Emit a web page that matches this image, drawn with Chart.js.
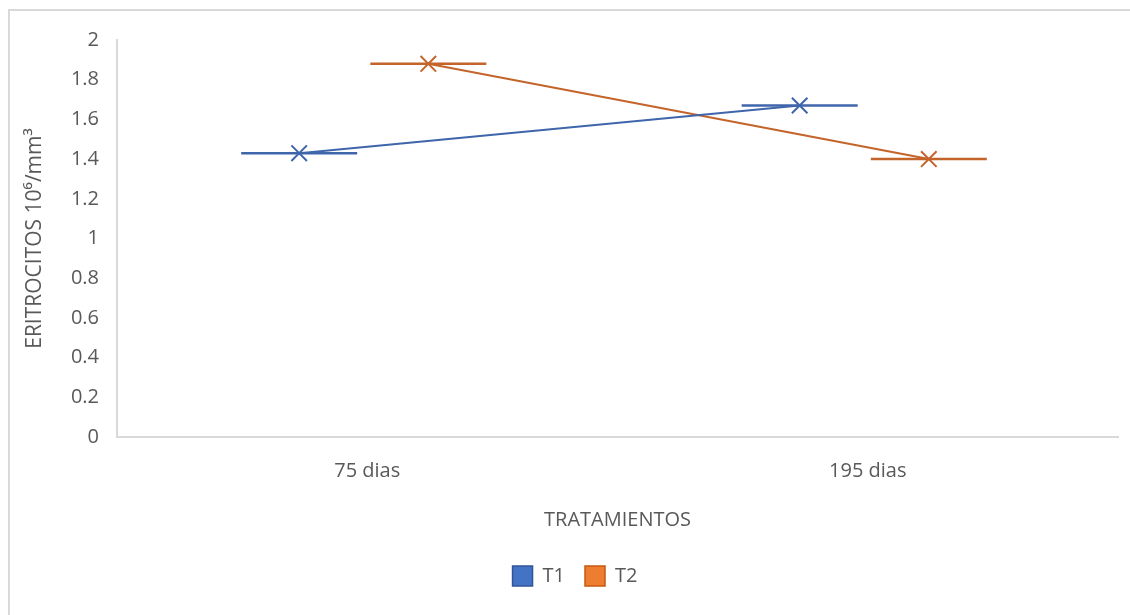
<!DOCTYPE html>
<html>
<head>
<meta charset="utf-8">
<script src="https://cdn.jsdelivr.net/npm/chart.js@4.4.0/dist/chart.umd.min.js"></script>
<style>
  html, body { margin: 0; padding: 0; background: #ffffff; }
  #moldura { position: absolute; left: 8px; top: 9px; width: 1200px; height: 700px;
             border-left: 2px solid #d9d9d9; border-top: 2px solid #d9d9d9; }
  #caixa { position: absolute; left: 0; top: 0; width: 1130px; height: 615px; }
</style>
</head>
<body>
<div id="moldura"></div>
<div id="caixa"><canvas id="grafico" width="1130" height="615"></canvas></div>
<script>
// dados
const categorias = ['75 dias', '195 dias'];
const valoresT1 = [1.43, 1.67];
const valoresT2 = [1.88, 1.40];
const ticksY = [0, 0.2, 0.4, 0.6, 0.8, 1, 1.2, 1.4, 1.6, 1.8, 2];

// deslocamento de cada serie dentro da categoria
const desloc = { T1: -0.136, T2: 0.122 };

const corT1 = '#3f65ab';
const corT2 = '#c4642a';

function pontos(valores, d) {
    return valores.map((v, i) => ({ x: i + 0.5 + d, y: v }));
}

const fonte = { family: '"Open Sans", sans-serif', size: 20 };

// empurra a legenda um pouco para a direita
const moveLegenda = {
    id: 'moveLegenda',
    afterLayout(chart) {
        chart.legend.left += 12;
        chart.legend.right += 12;
    }
};

const ctx = document.getElementById('grafico').getContext('2d');

new Chart(ctx, {
    type: 'line',
    data: {
        datasets: [
            {
                label: 'T1',
                data: pontos(valoresT1, desloc.T1),
                borderColor: corT1,
                borderWidth: 2,
                pointStyle: 'crossRot',
                pointRadius: 11,
                pointBorderWidth: 2,
                pointBorderColor: corT1,
                fill: false
            },
            {
                label: 'T2',
                data: pontos(valoresT2, desloc.T2),
                borderColor: corT2,
                borderWidth: 2,
                pointStyle: 'crossRot',
                pointRadius: 11,
                pointBorderWidth: 2,
                pointBorderColor: corT2,
                fill: false
            },
            // tracos horizontais (marcador "-")
            {
                label: 'T1-traco',
                data: pontos(valoresT1, desloc.T1),
                showLine: false,
                pointStyle: 'line',
                pointRadius: 58,
                pointBorderWidth: 2.5,
                pointBorderColor: corT1
            },
            {
                label: 'T2-traco',
                data: pontos(valoresT2, desloc.T2),
                showLine: false,
                pointStyle: 'line',
                pointRadius: 58,
                pointBorderWidth: 2.5,
                pointBorderColor: corT2
            }
        ]
    },
    options: {
        responsive: false,
        animation: false,
        layout: { autoPadding: false, padding: { left: 8, right: 12, top: 40, bottom: 19 } },
        scales: {
            x: {
                type: 'linear',
                min: 0,
                max: 2,
                grid: { display: false, drawTicks: false },
                border: { display: true, color: '#d9d9d9', width: 2 },
                afterBuildTicks: (s) => { s.ticks = categorias.map((c, i) => ({ value: i + 0.5 })); },
                ticks: {
                    color: '#595959',
                    font: fonte,
                    padding: 22,
                    maxRotation: 0,
                    callback: (v) => categorias[Math.round(v - 0.5)]
                },
                title: {
                    display: true,
                    text: 'TRATAMIENTOS',
                    color: '#595959',
                    font: fonte,
                    padding: { top: 3, bottom: 14 }
                }
            },
            y: {
                min: 0,
                max: 2,
                grid: { display: false, drawTicks: false },
                border: { display: true, color: '#d9d9d9', width: 2 },
                afterBuildTicks: (s) => { s.ticks = ticksY.map(v => ({ value: v })); },
                ticks: {
                    color: '#595959',
                    font: fonte,
                    padding: 18,
                    callback: (v) => String(v)
                },
                title: {
                    display: true,
                    text: 'ERITROCITOS 10⁶/mm³',
                    color: '#595959',
                    font: { family: '"Open Sans", sans-serif', size: 21 },
                    padding: { top: 14, bottom: 0 }
                },
                afterFit: (s) => { s.width = 109; }
            }
        },
        plugins: {
            tooltip: { enabled: false },
            legend: {
                position: 'bottom',
                labels: {
                    color: '#595959',
                    font: fonte,
                    boxWidth: 20,
                    boxHeight: 20,
                    padding: 20,
                    filter: (item) => item.datasetIndex < 2,
                    generateLabels: (chart) => [
                        { text: 'T1', fillStyle: '#4472c4', strokeStyle: '#2f5597', lineWidth: 1.5, datasetIndex: 0, fontColor: '#595959' },
                        { text: 'T2', fillStyle: '#ed7d31', strokeStyle: '#c55a11', lineWidth: 1.5, datasetIndex: 1, fontColor: '#595959' }
                    ]
                }
            }
        }
    },
    plugins: [moveLegenda]
});
</script>
</body>
</html>
